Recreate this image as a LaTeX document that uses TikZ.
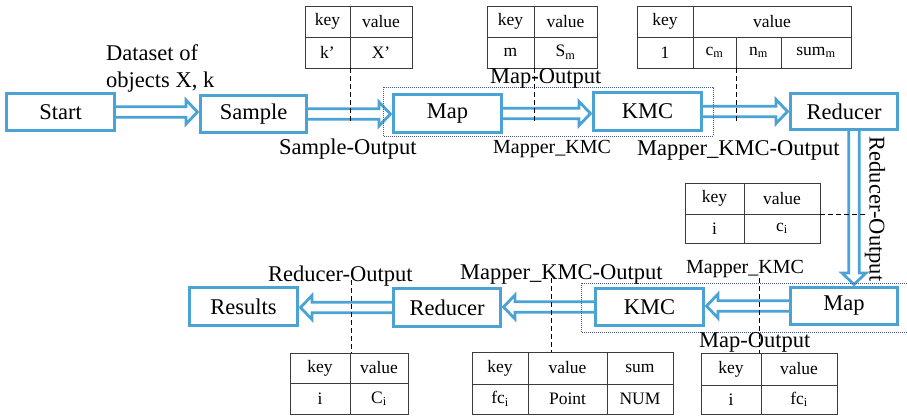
\documentclass[tikz,border=0pt]{standalone}
\usepackage{fontspec}
\setmainfont{Liberation Serif}
\usetikzlibrary{calc,backgrounds}

\definecolor{flowblue}{RGB}{74,163,212}
\definecolor{gridgray}{RGB}{60,60,60}
\definecolor{dotblue}{RGB}{70,85,140}

% arrow geometry
\newcommand\fwshaft{5.2pt}
\newcommand\fwhead{12pt}
\newcommand\fwlen{13pt}

% table cell: name, x1, y1, x2, y2, text
\newcommand\tcell[6]{%
  \node[cellbox, minimum width={#4-#2}, minimum height={#5-#3}]
    (#1) at ({(#2+#4)/2},{(#3+#5)/2}) {#6};}

% process box: name, x1, y1, x2, y2, text
\newcommand\stagebox[6]{%
  \node[stage, minimum width={#4-#2-3}, minimum height={#5-#3-3}]
    (#1) at ({(#2+#4)/2},{(#3+#5)/2}) {#6};}

% hollow block arrow from point #1 to point #2
\newcommand\flowarrow[2]{%
  \draw[flowarrow] let \p1=(#1), \p2=(#2),
      \n1={atan2(\y2-\y1,\x2-\x1)}, \n2={veclen(\x2-\x1,\y2-\y1)} in
    {[rotate around={\n1:(\p1)}]
      (\x1-1.5pt,\y1-\fwshaft) -- (\x1+\n2-\fwlen,\y1-\fwshaft)
      -- (\x1+\n2-\fwlen,\y1-\fwhead) -- (\x1+\n2-1.5pt,\y1)
      -- (\x1+\n2-\fwlen,\y1+\fwhead) -- (\x1+\n2-\fwlen,\y1+\fwshaft)
      -- (\x1-1.5pt,\y1+\fwshaft) -- cycle};}

\tikzset{
  stage/.style={draw=flowblue, line width=3pt, inner sep=0pt,
    font=\fontsize{22.5}{27}\selectfont},
  cellbox/.style={draw=gridgray, line width=0.8pt, inner sep=0pt, outer sep=0pt,
    font=\fontsize{17.5}{20}\selectfont},
  flowarrow/.style={draw=flowblue, fill=white, line width=2.8pt, line join=miter},
  leader/.style={draw=black, line width=0.9pt, dash pattern=on 5pt off 3pt},
  groupbox/.style={draw=dotblue, line width=0.7pt, dash pattern=on 0.8pt off 1.2pt},
  lbl/.style={inner sep=0pt, font=\fontsize{22.5}{27}\selectfont},
  lblsm/.style={inner sep=0pt, font=\fontsize{20}{24}\selectfont},
}

\begin{document}
\begin{tikzpicture}[x=1pt, y=-1pt]
\useasboundingbox (0,0) rectangle (907,415);

% ---------- first pass: Start -> Sample -> Map -> KMC -> Reducer ----------
\stagebox{start}{5}{92}{116}{132}{Start}
\stagebox{sample}{199}{94}{308}{134}{Sample}
\stagebox{mapA}{392}{93}{503}{134}{Map}
\stagebox{kmcA}{592}{91}{703}{132}{KMC}
\stagebox{redA}{789}{92}{899}{131}{Reducer}

% ---------- second pass: Map -> KMC -> Reducer -> Results ----------
\stagebox{mapB}{789}{286}{899}{326}{Map}
\stagebox{kmcB}{594}{287}{705}{327}{KMC}
\stagebox{redB}{392}{287}{502}{328}{Reducer}
\stagebox{results}{188}{286}{299}{327}{Results}

\coordinate (vdrop) at ([xshift=10pt]redA.south);

\begin{pgfonlayer}{background}
  \flowarrow{start.east}{start.east -| sample.west}
  \flowarrow{sample.east}{sample.east -| mapA.west}
  \flowarrow{mapA.east}{mapA.east -| kmcA.west}
  \flowarrow{kmcA.east}{kmcA.east -| redA.west}
  \flowarrow{vdrop}{vdrop |- mapB.north}
  \flowarrow{mapB.west}{mapB.west -| kmcB.east}
  \flowarrow{kmcB.west}{kmcB.west -| redB.east}
  \flowarrow{redB.west}{redB.west -| results.east}
\end{pgfonlayer}

% mapper groups
\draw[groupbox] (383,87) rectangle (713,136);
\draw[groupbox] (907,283) -- (581,283) -- (581,332) -- (907,332);

% ---------- key/value tables ----------
\tcell{tAa}{305}{6}{350}{37}{key}
\tcell{tAb}{350}{6}{412}{37}{value}
\tcell{tAc}{305}{37}{350}{68}{k’}
\tcell{tAd}{350}{37}{412}{68}{X’}

\tcell{tBa}{487}{6}{534}{37}{key}
\tcell{tBb}{534}{6}{597}{37}{value}
\tcell{tBc}{487}{37}{534}{68}{m}
\tcell{tBd}{534}{37}{597}{68}{S\textsubscript{m}}

\tcell{tCa}{637}{6}{693}{37}{key}
\tcell{tCb}{693}{6}{851}{37}{value}
\tcell{tCc}{637}{37}{693}{68}{1}
\tcell{tCd}{693}{37}{736}{68}{c\textsubscript{m}}
\tcell{tCe}{736}{37}{781}{68}{n\textsubscript{m}}
\tcell{tCf}{781}{37}{851}{68}{sum\textsubscript{m}}

\tcell{tDa}{685}{183}{744}{214}{key}
\tcell{tDb}{744}{183}{820}{214}{value}
\tcell{tDc}{685}{214}{744}{243}{i}
\tcell{tDd}{744}{214}{820}{243}{c\textsubscript{i}}

\tcell{tEa}{290}{353}{350}{383}{key}
\tcell{tEb}{350}{353}{408}{383}{value}
\tcell{tEc}{290}{383}{350}{414}{i}
\tcell{tEd}{350}{383}{408}{414}{C\textsubscript{i}}

\tcell{tFa}{472}{352}{528}{384}{key}
\tcell{tFb}{528}{352}{607}{384}{value}
\tcell{tFc}{607}{352}{673}{384}{sum}
\tcell{tFd}{472}{384}{528}{414}{fc\textsubscript{i}}
\tcell{tFe}{528}{384}{607}{414}{Point}
\tcell{tFf}{607}{384}{673}{414}{NUM}

\tcell{tGa}{701}{353}{761}{385}{key}
\tcell{tGb}{761}{353}{837}{385}{value}
\tcell{tGc}{701}{385}{761}{414}{i}
\tcell{tGd}{761}{385}{837}{414}{fc\textsubscript{i}}

% ---------- leaders from tables to the data flows ----------
\coordinate (lA) at (351,122);
\coordinate (lB) at (536,122);
\coordinate (lC) at (736,122);
\coordinate (lD) at (868,214);
\coordinate (lE) at (351,280);
\coordinate (lF) at (551,278);
\coordinate (lG) at (759,278);
\draw[leader] (tAc.south east) -- (tAc.south east |- lA);
\draw[leader] (tBc.south east) -- (tBc.south east |- lB);
\draw[leader] (tCd.south east) -- (tCd.south east |- lC);
\draw[leader] (tDb.south east) -- (lD);
\draw[leader] (lE) -- (lE |- tEa.north);
\draw[leader] (lF) -- (lF |- tFb.north);
\draw[leader] (lG) -- (lG |- tGa.north);

% ---------- flow labels ----------
\node[lbl, anchor=base west] (dsA) at (106,60) {Dataset of};
\node[lbl, anchor=base west] (dsB) at (106,87) {objects X, k};
\node[lbl, anchor=base west] (soA) at (279,154) {Sample-Output};
\node[lbl, anchor=base west] (moA) at (490,83) {Map-Output};
\node[lblsm, anchor=base west] (mkA) at (493,153) {Mapper\_KMC};
\node[lbl, anchor=base west] (mkoA) at (637,155) {Mapper\_KMC-Output};
\node[lbl, anchor=base, rotate=-90] (roA) at (869.5,209) {Reducer-Output};
\node[lbl, anchor=base west] (roB) at (268,281) {Reducer-Output};
\node[lbl, anchor=base west] (mkoB) at (460,279) {Mapper\_KMC-Output};
\node[lblsm, anchor=base west] (mkB) at (686,273) {Mapper\_KMC};
\node[lbl, anchor=base west] (moB) at (699,347) {Map-Output};
\end{tikzpicture}
\end{document}
